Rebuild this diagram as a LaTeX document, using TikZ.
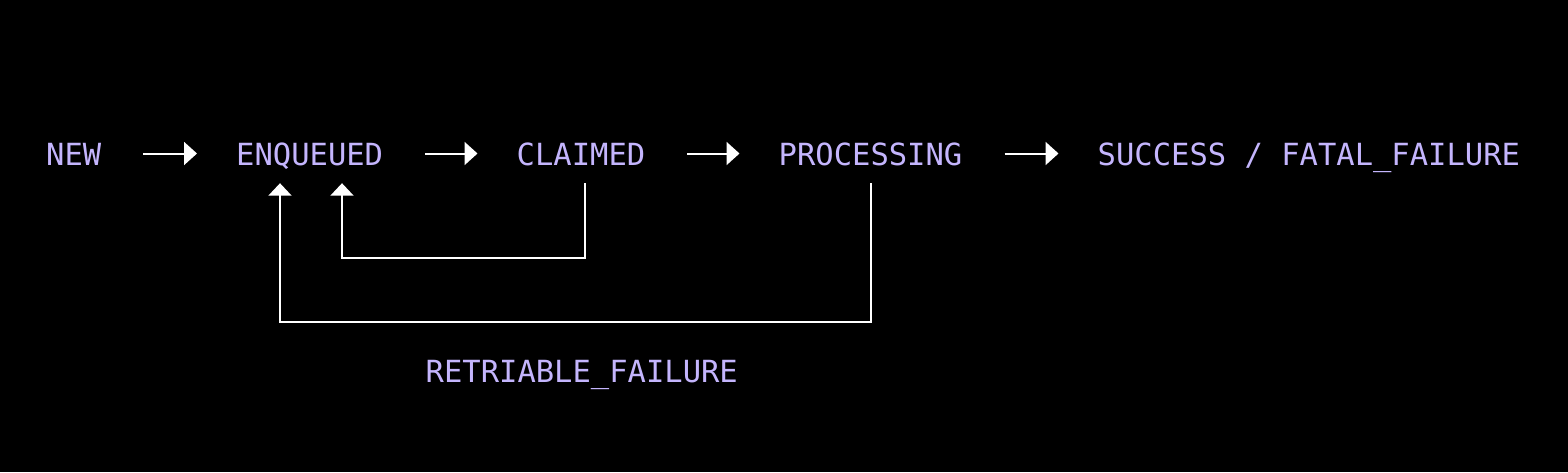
\documentclass[tikz,border=0pt]{standalone}
\usepackage{fontspec}
\newfontfamily\monofont{DejaVu Sans Mono}
\usetikzlibrary{arrows.meta}
\definecolor{lav}{HTML}{C4B5FD}
\tikzset{
  lbl/.style={text=lav, font=\monofont\fontsize{30.5pt}{36pt}\selectfont, inner sep=0pt, text height=22pt, text depth=0pt, anchor=base west},
  arr/.style={draw=white, line width=2pt, -{Triangle[length=13pt,width=23pt]}},
  ret/.style={draw=white, line width=2pt, -{Triangle[length=12.5pt,width=23pt]}}
}
\begin{document}
\begin{tikzpicture}[x=1pt,y=-1pt]
\useasboundingbox[fill=black] (0,0) rectangle (1568,472);
\node[lbl] (new) at (46,165.5) {NEW};
\node[lbl] (enq) at (236,165.5) {ENQUEUED};
\node[lbl] (claimed) at (516.5,165.5) {CLAIMED};
\node[lbl] (proc) at (778.5,165.5) {PROCESSING};
\node[lbl] (succ) at (1097.5,165.5) {SUCCESS / FATAL\_FAILURE};
\node[lbl] (retr) at (425.5,382) {RETRIABLE\_FAILURE};
\draw[arr] (new.east |- 0,153.5) ++(42pt,0) -- ([xshift=-39pt]enq.west |- 0,153.5);
\draw[arr] (enq.east |- 0,153.5) ++(42pt,0) -- ([xshift=-39pt]claimed.west |- 0,153.5);
\draw[arr] (claimed.east |- 0,153.5) ++(42pt,0) -- ([xshift=-39pt]proc.west |- 0,153.5);
\draw[arr] (proc.east |- 0,153.5) ++(42pt,0) -- ([xshift=-39pt]succ.west |- 0,153.5);
\coordinate (c1) at (claimed.south -| 584.5,0);
\coordinate (p1) at (proc.south -| 871,0);
\coordinate (e1) at (enq.south -| 342,0);
\coordinate (e2) at (enq.south -| 280,0);
\draw[ret] ([yshift=-17.5pt]c1) -- (584.5,258) -| ([yshift=-17.5pt]e1);
\draw[ret] ([yshift=-17.5pt]p1) -- (871,322) -| ([yshift=-17.5pt]e2);
\end{tikzpicture}
\end{document}
